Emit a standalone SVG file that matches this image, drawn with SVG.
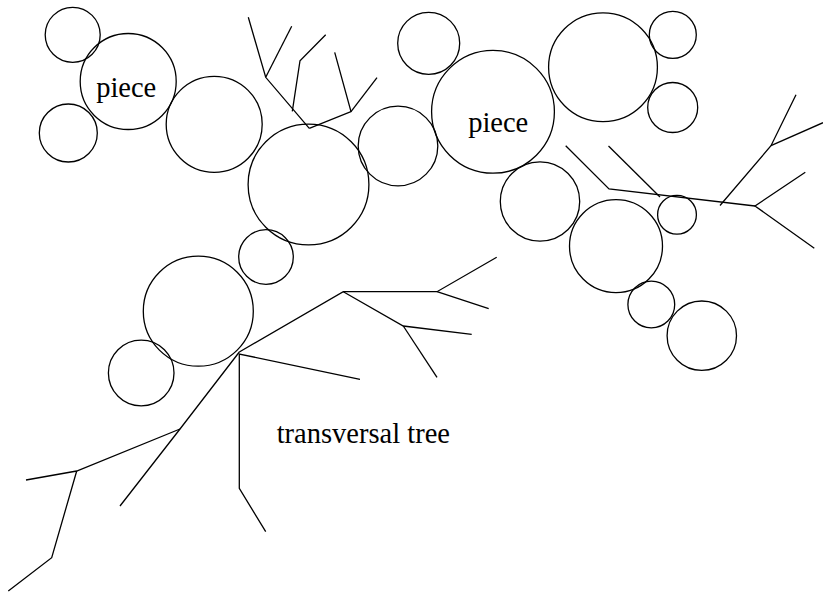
<svg xmlns="http://www.w3.org/2000/svg" width="823" height="592" viewBox="0 0 823 592">
<style>
.c{fill:none;stroke:#000;stroke-width:1.3}
.l{fill:none;stroke:#000;stroke-width:1.3;stroke-linejoin:miter}
text{font-family:'Liberation Serif',serif;font-size:28.5px;fill:#000}
</style>
<rect width="823" height="592" fill="#fff"/>
<g id="connectors">
<polyline class="l" points="309.3,128.3 265.7,77.3 248.3,17.3"/>
<polyline class="l" points="265.7,77.3 291.7,26.3"/>
<polyline class="l" points="309.3,128.3 351,111.7 334.7,52.3"/>
<polyline class="l" points="351,111.7 377,77.7"/>
<polyline class="l" points="292.3,111.3 300,60.7 325.7,34.7"/>
<polyline class="l" points="565.7,145.7 609,189 755,206"/>
<polyline class="l" points="608.5,146 660,197"/>
<polyline class="l" points="796,94.7 771,145.7 720,205.5"/>
<polyline class="l" points="771,145.7 823,122.7"/>
<polyline class="l" points="805.3,172.3 755,206 814.3,248.3"/>
<polyline class="l" points="239.3,352 343.3,291.7 437,291.7 496.7,257.3"/>
<polyline class="l" points="437,291.7 488.7,308.7"/>
<polyline class="l" points="343.3,291.7 403.3,326 471.7,334.3"/>
<polyline class="l" points="403.3,326 437,377.3"/>
<polyline class="l" points="360,379.3 239.3,354 239.3,488.3 265.7,531.7"/>
<polyline class="l" points="239.3,352 180,429 120,506"/>
<polyline class="l" points="180,429 76.7,471 26,480"/>
<polyline class="l" points="76.7,471 51.7,557.7 8.3,591"/>
</g>
<g id="circleA"><circle class="c" cx="72.7" cy="34.8" r="27.5"/></g>
<g id="piece1"><circle class="c" cx="128.2" cy="81.5" r="48"/><text x="126.2" y="96.7" text-anchor="middle" font-family="Liberation Serif, serif">piece</text></g>
<g id="circleC"><circle class="c" cx="68.3" cy="133" r="29"/></g>
<g id="circleD"><circle class="c" cx="214.2" cy="124.3" r="48"/></g>
<g id="circleE"><circle class="c" cx="308.5" cy="184.5" r="60.4"/></g>
<g id="circleF"><circle class="c" cx="398" cy="146" r="39.8"/></g>
<g id="circleG"><circle class="c" cx="266" cy="257" r="27.3"/></g>
<g id="circleH"><circle class="c" cx="428.7" cy="43.3" r="31"/></g>
<g id="piece2"><circle class="c" cx="493" cy="111.8" r="61.4"/><text x="498.2" y="131.7" text-anchor="middle" font-family="Liberation Serif, serif">piece</text></g>
<g id="circleJ"><circle class="c" cx="603" cy="67.2" r="54.4"/></g>
<g id="circleK"><circle class="c" cx="672.8" cy="34.8" r="23.5"/></g>
<g id="circleL"><circle class="c" cx="672.7" cy="107.5" r="25"/></g>
<g id="circleM"><circle class="c" cx="540" cy="201.5" r="39.7"/></g>
<g id="circleN"><circle class="c" cx="677" cy="214.7" r="19.4"/></g>
<g id="circleO"><circle class="c" cx="616" cy="246.2" r="46.5"/></g>
<g id="circleP"><circle class="c" cx="651.3" cy="304.5" r="23.4"/></g>
<g id="circleQ"><circle class="c" cx="701.8" cy="335.7" r="34.7"/></g>
<g id="circleR"><circle class="c" cx="198.3" cy="311.2" r="55"/></g>
<g id="circleS"><circle class="c" cx="141.2" cy="373" r="32.8"/></g>
<g id="label"><text x="276.7" y="443.3" font-family="Liberation Serif, serif">transversal tree</text></g>
</svg>
